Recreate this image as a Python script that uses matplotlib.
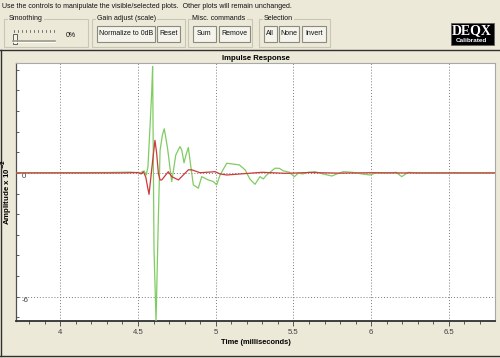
import numpy as np
import matplotlib
matplotlib.use('Agg')
import matplotlib.pyplot as plt
from matplotlib.patches import Rectangle
from matplotlib.ticker import FixedLocator, MultipleLocator

''' Impulse response traces, time in ms, amplitude in units of 1e-2 '''
green_t = [3.715, 4.30, 4.45, 4.513, 4.539, 4.553, 4.564, 4.577, 4.588, 4.594,
           4.603, 4.616, 4.630, 4.642, 4.657, 4.669, 4.690, 4.717, 4.743, 4.770,
           4.782, 4.796, 4.810, 4.824, 4.840, 4.856, 4.888, 4.910, 4.952, 4.985,
           5.006, 5.028, 5.071, 5.152, 5.189, 5.220, 5.253, 5.285, 5.306, 5.328,
           5.382, 5.410, 5.435, 5.474, 5.506, 5.532, 5.560, 5.596, 5.639, 5.690,
           5.747, 5.780, 5.821, 5.880, 5.950, 5.993, 6.030, 6.068, 6.120, 6.160,
           6.197, 6.239, 6.300, 6.500, 6.797]
green_a = [0.0, 0.02, 0.04, 0.0, 0.10, -0.10, 0.30, 2.20, 3.90, 5.16,
           -3.70, -7.20, -2.50, 1.10, 1.84, 2.14, 1.20, -0.42, 0.87, 1.28,
           1.10, 0.49, 0.90, 1.23, 0.30, -0.58, -0.74, -0.18, -0.34, -0.42,
           -0.58, -0.10, 0.47, 0.39, 0.15, -0.30, -0.55, -0.18, -0.29, -0.10,
           0.23, 0.22, 0.10, 0.03, -0.18, -0.01, -0.05, 0.03, 0.06, -0.05,
           -0.15, -0.05, 0.06, 0.03, -0.06, -0.10, 0.00, -0.01, 0.00, 0.03,
           -0.18, 0.03, 0.00, 0.00, 0.00]

red_t = [3.715, 4.40, 4.50, 4.520, 4.535, 4.550, 4.561, 4.571, 4.590, 4.609,
         4.620, 4.631, 4.642, 4.653, 4.695, 4.717, 4.760, 4.803, 4.824, 4.846,
         4.899, 4.996, 5.028, 5.071, 5.157, 5.30, 5.45, 5.60, 5.80, 6.00,
         6.20, 6.50, 6.797]
red_a = [0.0, 0.0, 0.02, -0.05, 0.05, -0.20, -0.66, -1.04, 0.30, 1.58,
         0.96, -0.01, -0.34, -0.34, 0.06, -0.18, -0.34, -0.01, 0.15, 0.15,
         0.01, 0.06, -0.05, -0.10, -0.05, 0.03, -0.02, 0.02, -0.01, 0.01,
         0.0, 0.0, 0.0]

x_ticks = [4, 4.5, 5, 5.5, 6, 6.5]
x_labels = ['4', '4.5', '5', '5.5', '6', '6.5']
y_ticks = [0, -6]
y_labels = ['0', '-6']

hint = 'Use the controls to manipulate the visible/selected plots.  Other plots will remain unchanged.'
groups = ['Smoothing', 'Gain adjust (scale)', 'Misc. commands', 'Selection']
buttons = ['Normalize to 0dB', 'Reset', 'Sum', 'Remove', 'All', 'None', 'Invert']

BG = '#ece9d8'
FS = 5.05

plt.rcParams['font.family'] = ['Liberation Sans', 'DejaVu Sans']

fig = plt.figure(figsize=(5, 3.58), dpi=100, facecolor=BG)

''' window chrome drawn in pixel coordinates '''
ui = fig.add_axes([0, 0, 1, 1], zorder=0)
ui.set_xlim(0, 500)
ui.set_ylim(358, 0)
ui.axis('off')

ui.text(1.5, 6, hint, fontsize=FS, ha='left', va='center', color='#101010')

def group_box(x0, x1, label):
    ui.add_patch(Rectangle((x0, 19), x1 - x0, 28, fill=False, ec='#c8c6b4', lw=0.8))
    ui.text(x0 + 5, 19, label, fontsize=FS, ha='left', va='center', color='#101010',
            bbox=dict(fc=BG, ec='none', pad=0.6))

def button(x0, x1, label):
    ui.add_patch(Rectangle((x0, 25.5), x1 - x0, 16, fc='#f4f3ec', ec='#8c8a7c', lw=0.8))
    ui.text((x0 + x1) / 2, 33.5, label, fontsize=FS, ha='center', va='center', color='#101010')

group_box(4, 87.5, groups[0])
group_box(92, 184.5, groups[1])
group_box(187.5, 252, groups[2])
group_box(259, 330, groups[3])

for (x0, x1), lab in zip([(96.5, 155), (157, 179.5), (193, 215.5), (218.5, 249.5),
                          (264, 276.5), (278.5, 298.5), (302, 326)], buttons):
    button(x0, x1, lab)

''' smoothing slider '''
ui.plot([13, 55], [41, 41], color='#9c9a8c', lw=1.2)
ui.plot([13, 55], [42, 42], color='white', lw=0.6)
for tx in np.arange(14, 55, 4):
    ui.plot([tx, tx], [30, 31.5], color='#404040', lw=0.5)
ui.add_patch(Rectangle((12.5, 34), 4.5, 10, fc='#f4f3ec', ec='#606060', lw=0.7))
ui.text(66, 35.5, '0%', fontsize=FS, ha='left', va='center', color='#101010')

''' DEQX badge '''
ui.add_patch(Rectangle((450.5, 23), 43, 22, fc='black', ec='#606060', lw=0.6))
ui.text(471.5, 30.5, 'DEQX', fontsize=10, fontfamily='Liberation Serif',
        fontweight='bold', color='white', ha='center', va='center')
ui.text(471.5, 40.8, 'Calibrated', fontsize=4.6, fontweight='bold',
        color='white', ha='center', va='center')

''' chart panel frame '''
ui.plot([0, 500], [49.5, 49.5], color='#303030', lw=1.0)
ui.plot([1, 1], [49.5, 356], color='#303030', lw=1.0)
ui.plot([0, 500], [356, 356], color='#303030', lw=1.0)

''' plot area '''
ax = fig.add_axes([16 / 500, 1 - 321 / 358, 479 / 500, 258 / 358], zorder=1)
ax.set_facecolor('white')

ax.plot(green_t, green_a, color='#7fcc62', lw=0.9, zorder=3)
ax.plot(red_t, red_a, color='#cc3a3a', lw=0.9, zorder=4)

ax.set_xlim(3.715, 6.797)
ax.set_ylim(-7.18, 5.33)

ax.xaxis.set_major_locator(FixedLocator(x_ticks))
ax.set_xticklabels(x_labels)
ax.xaxis.set_minor_locator(MultipleLocator(0.1))
ax.yaxis.set_major_locator(FixedLocator(y_ticks))
ax.set_yticklabels(y_labels)
ax.yaxis.set_minor_locator(MultipleLocator(1))

ax.tick_params(axis='x', which='major', direction='out', length=3.4, width=0.6,
               color='#404040', labelsize=5.6, labelcolor='#404040', pad=2.4)
ax.tick_params(axis='x', which='minor', direction='out', length=2.2, width=0.6,
               color='#404040')
ax.tick_params(axis='y', which='both', direction='in', length=2.0, width=0.6,
               color='#404040', labelsize=5.6, labelcolor='#404040', pad=-3.8)
for lbl in ax.get_yticklabels():
    lbl.set_horizontalalignment('left')
    lbl.set_verticalalignment('top')

ax.grid(True, which='major', linestyle=(0, (1, 2)), color='#7a7a7a', lw=0.7)

for side in ['top', 'right']:
    ax.spines[side].set_color('#a8a8a8')
    ax.spines[side].set_linewidth(0.8)
ax.spines['left'].set_color('#505050')
ax.spines['left'].set_linewidth(0.9)
ax.spines['bottom'].set_color('#303030')
ax.spines['bottom'].set_linewidth(1.3)

ax.set_title('Impulse Response', fontsize=5.6, fontweight='bold', pad=2.5)
ax.set_xlabel('Time (milliseconds)', fontsize=5.4, fontweight='bold')
ax.xaxis.set_label_coords(0.5, -0.07)
ax.set_ylabel(r'Amplitude x 10$^{\mathbf{-2}}$', fontsize=5.7, fontweight='bold')
ax.yaxis.set_label_coords(-0.004, 0.5)

fig.savefig('out.png', dpi=100, facecolor=BG)
